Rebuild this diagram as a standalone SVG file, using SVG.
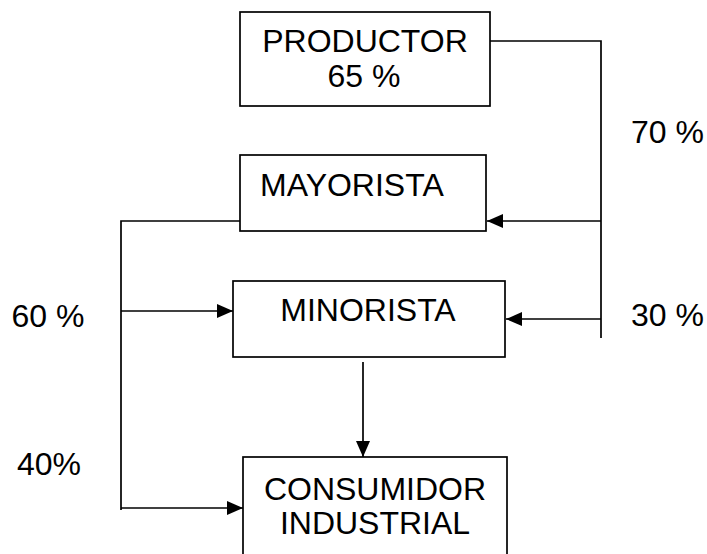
<svg xmlns="http://www.w3.org/2000/svg" width="707" height="554" viewBox="0 0 707 554">
  <defs>
    <style>
      .box { fill: #ffffff; stroke: #000000; stroke-width: 1.7; }
      .t { font-family: "Liberation Sans", Arial, sans-serif; font-size: 32px; fill: #000000; }
      .c { text-anchor: middle; }
      .ln { fill: none; stroke: #000000; stroke-width: 1.7; }
      .ar { fill: none; stroke: #000000; stroke-width: 1.7; marker-end: url(#ah); }
    </style>
    <marker id="ah" markerUnits="userSpaceOnUse" markerWidth="17" markerHeight="15" refX="16" refY="7" orient="auto">
      <path d="M0,0 L16,7 L0,14 z" fill="#000000"/>
    </marker>
  </defs>
  <rect width="707" height="554" fill="#ffffff"/>

  <g id="connectors">
    <path class="ln" d="M490,41 H601 V338"/>
    <line class="ar" x1="601" y1="221" x2="487" y2="221"/>
    <line class="ar" x1="601" y1="319" x2="506" y2="319"/>
    <path class="ln" d="M240,221 H121 V510"/>
    <line class="ar" x1="121" y1="311" x2="233" y2="311"/>
    <line class="ar" x1="121" y1="508" x2="243" y2="508"/>
    <line class="ar" x1="363" y1="362" x2="363" y2="457"/>
  </g>

  <g id="productor">
    <rect class="box" x="240" y="12" width="250" height="94"/>
    <text class="t c" x="365" y="52">PRODUCTOR</text>
    <text class="t c" x="364" y="87">65 %</text>
  </g>

  <g id="mayorista">
    <rect class="box" x="240" y="155" width="246" height="76"/>
    <text class="t" x="260" y="196">MAYORISTA</text>
  </g>

  <g id="minorista">
    <rect class="box" x="233" y="281" width="272" height="76"/>
    <text class="t c" x="368" y="321">MINORISTA</text>
  </g>

  <g id="consumidor">
    <rect class="box" x="243" y="457" width="264" height="110"/>
    <text class="t c" x="375" y="500">CONSUMIDOR</text>
    <text class="t c" x="375" y="534">INDUSTRIAL</text>
  </g>

  <g id="labels">
    <text class="t" x="631" y="143">70 %</text>
    <text class="t" x="631" y="326">30 %</text>
    <text class="t" x="11.5" y="327">60 %</text>
    <text class="t" x="17" y="475">40%</text>
  </g>
</svg>
